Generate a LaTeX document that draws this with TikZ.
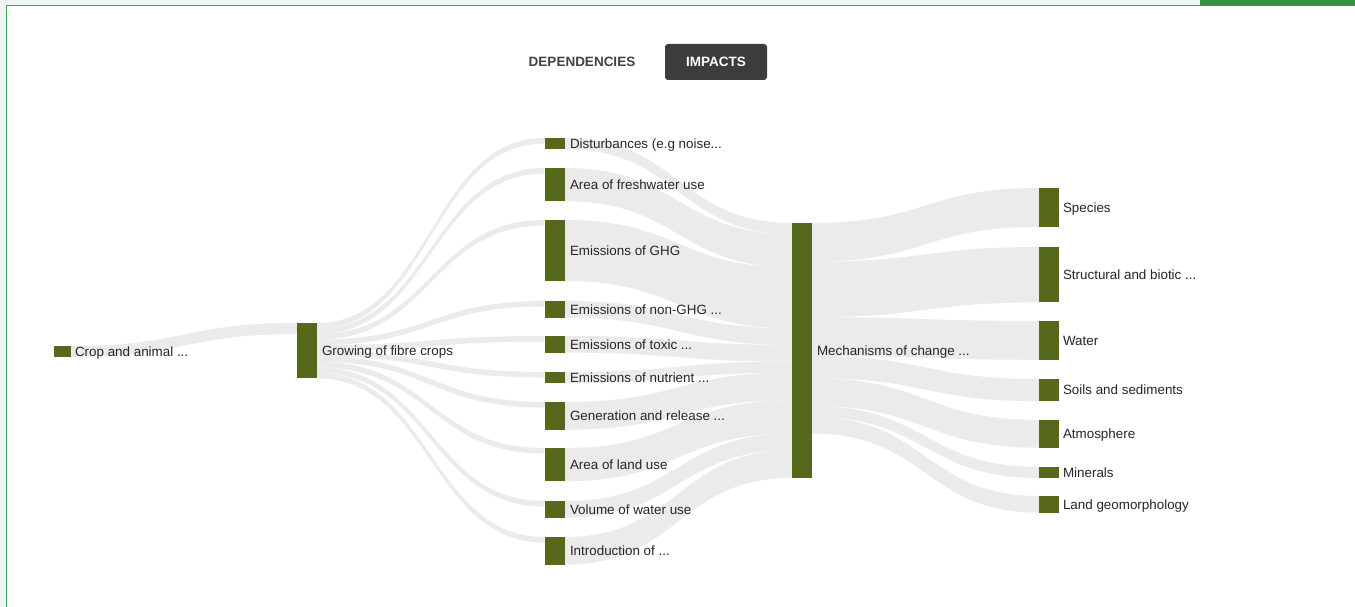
\documentclass[tikz,border=0pt]{standalone}
\usepackage{fontspec}
\setmainfont{Liberation Sans}
\usetikzlibrary{calc}
\definecolor{barc}{RGB}{86,104,28}
\definecolor{flowc}{RGB}{235,235,235}
\definecolor{txtc}{RGB}{38,38,38}
\definecolor{grn}{RGB}{64,166,84}
\definecolor{grnd}{RGB}{49,146,72}
\definecolor{bgg}{RGB}{242,243,245}
\definecolor{btnc}{RGB}{60,60,60}
\definecolor{deptxt}{RGB}{66,66,66}
\pgfdeclarelayer{frame}
\pgfdeclarelayer{flows}
\pgfsetlayers{frame,flows,main}
\def\uu{5.54}
\newcommand\sflow[5]{%
  \path ($(#1.north east)+(0,#2*\uu)$) coordinate (fa1)
        ($(#1.north east)+(0,#2*\uu+#5*\uu)$) coordinate (fa2)
        ($(#3.north west)+(0,#4*\uu)$) coordinate (fb1)
        ($(#3.north west)+(0,#4*\uu+#5*\uu)$) coordinate (fb2);
  \path ($(fa1)!0.5!(fb1)$) coordinate (fm);
  \begin{pgfonlayer}{flows}
  \fill[flowc] (fa1) .. controls (fm |- fa1) and (fm |- fb1) .. (fb1) -- (fb2)
     .. controls (fm |- fb2) and (fm |- fa2) .. (fa2) -- cycle;
  \end{pgfonlayer}}
\begin{document}
\begin{tikzpicture}[x=1pt,y=-1pt,
  bar/.style={fill=barc, draw=none, inner sep=0pt, outer sep=0pt,
    minimum width=20.5pt, minimum height=#1*\uu pt, anchor=north west},
  lbl/.style={anchor=west, inner sep=0pt, outer sep=0pt, text=txtc,
    font=\fontsize{13.4}{16}\selectfont, text height=9.6pt, text depth=0pt},
  btnlbl/.style={inner sep=0pt, font=\fontsize{13.5}{16}\selectfont\bfseries}]
\useasboundingbox (0,0) rectangle (1355,607);
\begin{pgfonlayer}{frame}
\fill[bgg] (0,0) rectangle (1355,607);
\fill[white] (6,5) rectangle (1355,607);
\draw[grn, line width=1.3pt] (6.6,607) -- (6.6,5.6) -- (1355,5.6);
\fill[grnd] (1200,0) rectangle (1355,6.3);
\end{pgfonlayer}

% buttons
\node[btnlbl, text=deptxt] (dep) at (582,62) {DEPENDENCIES};
\node[fill=btnc, rounded corners=3pt, minimum width=102pt, minimum height=36pt,
      inner sep=0pt, text=white, font=\fontsize{13.5}{16}\selectfont\bfseries] (imp) at (716,62) {IMPACTS};

% bars
\node[bar=2, minimum width=17pt] (cro) at (54,346) {};
\node[bar=10, minimum width=20pt] (gro) at (297,323) {};
\node[bar=2] (dis) at (544.5,138) {};
\node[bar=6] (fre) at (544.5,168) {};
\node[bar=11] (ghg) at (544.5,220) {};
\node[bar=3] (ngh) at (544.5,301) {};
\node[bar=3] (tox) at (544.5,336) {};
\node[bar=2] (nut) at (544.5,372) {};
\node[bar=5] (gen) at (544.5,402) {};
\node[bar=6] (lan) at (544.5,448) {};
\node[bar=3] (vol) at (544.5,501) {};
\node[bar=5] (int) at (544.5,537) {};
\node[bar=46, minimum width=20pt] (mec) at (792,223) {};
\node[bar=7, minimum width=20pt] (spe) at (1039,188) {};
\node[bar=10, minimum width=20pt] (str) at (1039,247) {};
\node[bar=7, minimum width=20pt] (wat) at (1039,321) {};
\node[bar=4, minimum width=20pt] (soi) at (1039,379) {};
\node[bar=5, minimum width=20pt] (atm) at (1039,420) {};
\node[bar=2, minimum width=20pt] (min) at (1039,467) {};
\node[bar=3, minimum width=20pt] (geo) at (1039,496) {};

% flows
\sflow{cro}{0}{gro}{0}{2}
\sflow{gro}{0}{dis}{0}{1}
\sflow{gro}{1}{fre}{0}{1}
\sflow{gro}{2}{ghg}{0}{1}
\sflow{gro}{3}{ngh}{0}{1}
\sflow{gro}{4}{tox}{0}{1}
\sflow{gro}{5}{nut}{0}{1}
\sflow{gro}{6}{gen}{0}{1}
\sflow{gro}{7}{lan}{0}{1}
\sflow{gro}{8}{vol}{0}{1}
\sflow{gro}{9}{int}{0}{1}
\sflow{dis}{0}{mec}{0}{2}
\sflow{fre}{0}{mec}{2}{6}
\sflow{ghg}{0}{mec}{8}{11}
\sflow{ngh}{0}{mec}{19}{3}
\sflow{tox}{0}{mec}{22}{3}
\sflow{nut}{0}{mec}{25}{2}
\sflow{gen}{0}{mec}{27}{5}
\sflow{lan}{0}{mec}{32}{6}
\sflow{vol}{0}{mec}{38}{3}
\sflow{int}{0}{mec}{41}{5}
\sflow{mec}{0}{spe}{0}{7}
\sflow{mec}{7}{str}{0}{10}
\sflow{mec}{17}{wat}{0}{7}
\sflow{mec}{24}{soi}{0}{4}
\sflow{mec}{28}{atm}{0}{5}
\sflow{mec}{33}{min}{0}{2}
\sflow{mec}{35}{geo}{0}{3}

% labels
\node[lbl] (t-cro) at ($(cro.east)+(4,0)$) {Crop and animal ...};
\node[lbl] (t-gro) at ($(gro.east)+(5,0)$) {Growing of fibre crops};
\node[lbl] (t-dis) at ($(dis.east)+(5,0)$) {Disturbances (e.g noise...};
\node[lbl] (t-fre) at ($(fre.east)+(5,0)$) {Area of freshwater use};
\node[lbl] (t-ghg) at ($(ghg.east)+(5,0)$) {Emissions of GHG};
\node[lbl] (t-ngh) at ($(ngh.east)+(5,0)$) {Emissions of non-GHG ...};
\node[lbl] (t-tox) at ($(tox.east)+(5,0)$) {Emissions of toxic ...};
\node[lbl] (t-nut) at ($(nut.east)+(5,0)$) {Emissions of nutrient ...};
\node[lbl] (t-gen) at ($(gen.east)+(5,0)$) {Generation and release ...};
\node[lbl] (t-lan) at ($(lan.east)+(5,0)$) {Area of land use};
\node[lbl] (t-vol) at ($(vol.east)+(5,0)$) {Volume of water use};
\node[lbl] (t-int) at ($(int.east)+(5,0)$) {Introduction of ...};
\node[lbl] (t-mec) at ($(mec.east)+(5,0)$) {Mechanisms of change ...};
\node[lbl] (t-spe) at ($(spe.east)+(4,0)$) {Species};
\node[lbl] (t-str) at ($(str.east)+(4,0)$) {Structural and biotic ...};
\node[lbl] (t-wat) at ($(wat.east)+(4,0)$) {Water};
\node[lbl] (t-soi) at ($(soi.east)+(4,0)$) {Soils and sediments};
\node[lbl] (t-atm) at ($(atm.east)+(4,0)$) {Atmosphere};
\node[lbl] (t-min) at ($(min.east)+(4,0)$) {Minerals};
\node[lbl] (t-geo) at ($(geo.east)+(4,0)$) {Land geomorphology};
\end{tikzpicture}
\end{document}
